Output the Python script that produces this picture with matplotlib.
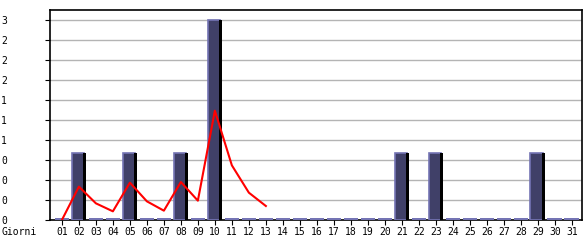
import numpy as np
import matplotlib
matplotlib.use("Agg")
import matplotlib.pyplot as plt

days = [f"{d:02d}" for d in range(1, 32)]
counts = [0, 1, 0, 0, 1, 0, 0, 1, 0, 3,
          0, 0, 0, 0, 0, 0, 0, 0, 0, 0,
          1, 0, 1, 0, 0, 0, 0, 0, 1, 0, 0]
trend_days = list(range(1, 14))
trend = [0, 0.5, 0.25, 0.13, 0.56, 0.28, 0.14, 0.57, 0.29, 1.64, 0.82, 0.41, 0.21]
yticks = [0, 0.3, 0.6, 0.9, 1.2, 1.5, 1.8, 2.1, 2.4, 2.7, 3.0]
ytick_labels = [str(int(np.floor(v + 1e-9))) for v in yticks]
xlabel_text = "Giorni"

FILL = "#404068"
LIGHT = "#7474b4"
SHADOW = "#000000"
FONT = "DejaVu Sans Mono"
FS = 7

W, H, DPI = 585, 240, 100
fig = plt.figure(figsize=(W / DPI, H / DPI), dpi=DPI)
ax = fig.add_axes([50 / W, 20 / H, 532 / W, 210 / H])

x = np.arange(1, 32)
vals = np.array(counts, dtype=float)
nz = vals > 0

# zero-value markers
ax.bar(x[~nz] - 0.43, 0.03, width=0.84, align="edge", color=LIGHT, linewidth=0, zorder=3)
# main bars
ax.bar(x[nz] - 0.43, vals[nz], width=0.72, align="edge", color=FILL,
       edgecolor=LIGHT, linewidth=1.2, zorder=3)
# right shadow
ax.bar(x[nz] + 0.27, vals[nz], width=0.14, align="edge", color=SHADOW, linewidth=0, zorder=4)

ax.plot(trend_days, trend, color="#ff0000", linewidth=1.5, zorder=5)

ax.set_xlim(0.3, 31.6)
ax.set_ylim(0, 3.15)
ax.set_yticks(yticks)
ax.set_yticklabels(ytick_labels, fontfamily=FONT, fontsize=FS, ha="left")
ax.set_xticks(x)
ax.set_xticklabels(days, fontfamily=FONT, fontsize=FS)
ax.tick_params(axis="y", length=3.6, width=0.8, pad=31.7, colors="black")
ax.tick_params(axis="x", length=3.6, width=0.8, pad=1.5, colors="black")
ax.grid(axis="y", color="#b4b4b4", linewidth=1.0, zorder=0)
ax.set_axisbelow(True)
for s in ax.spines.values():
    s.set_color("black")
    s.set_linewidth(1.2)

fig.text(2 / W, 1 - 232 / H, xlabel_text, fontfamily=FONT, fontsize=FS,
         ha="left", va="center")

fig.savefig("out.png", dpi=DPI)
